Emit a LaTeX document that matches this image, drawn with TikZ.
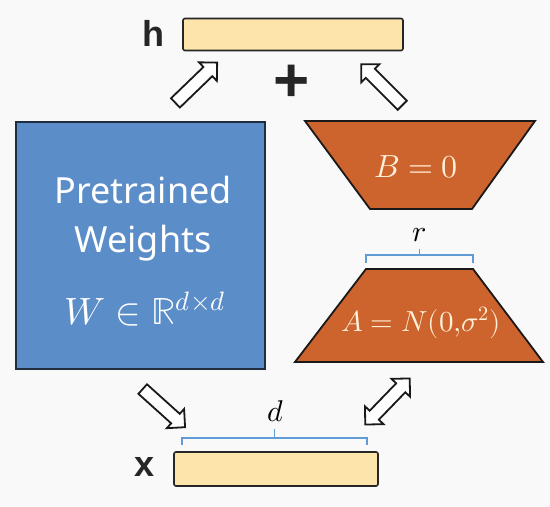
\documentclass[tikz,border=0pt]{standalone}
\usepackage{amsmath}
\usepackage{fontspec}
\usepackage{unicode-math}
\setsansfont{Noto Sans}
\newfontfamily\veclabelfont{Liberation Sans}
\usetikzlibrary{positioning,calc,shapes.arrows}
\definecolor{wblue}{RGB}{91,141,200}
\definecolor{wborder}{RGB}{32,45,62}
\definecolor{lorange}{RGB}{205,99,45}
\definecolor{vcream}{RGB}{252,228,170}
\definecolor{brblue}{RGB}{95,155,212}
\definecolor{bgcol}{RGB}{249,249,249}
\definecolor{lcream}{RGB}{255,240,215}
\tikzset{
	vecbox/.style={draw=black!85, fill=vcream, line width=1.6pt, rounded corners=2pt, minimum width=#1, minimum height=32pt, inner sep=0pt},
	veclabel/.style={font=\veclabelfont\bfseries\fontsize{36}{40}\selectfont, text=black!85},
	lowrank/.style={draw=black!90, fill=lorange, line width=1.8pt, line join=miter},
	onlowrank/.style={text=lcream, font=\fontsize{29}{32}\selectfont, inner sep=0pt},
	hollow/.style={single arrow, draw=black!90, fill=white, line width=1.8pt, inner xsep=0pt, inner ysep=5.5pt, minimum height=#1, single arrow head extend=6.5pt},
	dhollow/.style={double arrow, draw=black!90, fill=white, line width=1.8pt, inner xsep=0pt, inner ysep=5.5pt, minimum height=#1, double arrow head extend=6.5pt},
	dimbrace/.style={draw=brblue, line width=1.4pt},
	dimlabel/.style={font=\fontsize{30}{32}\selectfont, inner sep=0pt}
}
\begin{document}
\begin{tikzpicture}[x=1pt,y=1pt]
		\fill[bgcol] (0,0) rectangle (550,507);
		\useasboundingbox (0,0) rectangle (550,507);
		
		\node[vecbox=220pt] (h) at (293,472.5) {};
		\node[veclabel] (hlbl) at (153,474) {h};
		\node[vecbox=204pt, minimum height=34pt] (x) at (276,38) {};
		\node[veclabel] (xlbl) at (145,40) {x};
		
		\node[draw=wborder, fill=wblue, line width=1.8pt, minimum width=249pt, minimum height=247pt] (W) at (140.5,261.5) {};
		\node[text=white, font=\sffamily\fontsize{36}{49}\selectfont, align=center] (Wtxt) at (143,288) {Pretrained\\Weights};
		\node[text=white, font=\fontsize{38}{40}\selectfont] (Wdim) at (145,198) {$W \in \mathbb{R}^{d\times d}$};
		
		\coordinate (B1) at (305,386);
		\coordinate (B2) at (535,386);
		\coordinate (B3) at (472,298);
		\coordinate (B4) at (370,298);
		\draw[lowrank] (B1) -- (B2) -- (B3) -- (B4) -- cycle;
		\node[onlowrank, font=\fontsize{32}{34}\selectfont] (B) at (416,340) {$B = 0$};
		
		\coordinate (A1) at (366,238);
		\coordinate (A2) at (473,238);
		\coordinate (A3) at (543,145);
		\coordinate (A4) at (295,145);
		\draw[lowrank] (A1) -- (A2) -- (A3) -- (A4) -- cycle;
		\node[onlowrank] (A) at (421,184) {$A = N(0{,}\sigma^2)$};
		
		\coordinate (r1) at (366,252);
		\coordinate (r2) at (473,252);
		\draw[dimbrace] ([yshift=-8pt]r1) -- (r1) -- (r2) -- ([yshift=-8pt]r2);
		\draw[dimbrace] ($(r1)!0.5!(r2)$) -- ++(0,6);
		\node[dimlabel] (r) at (419,272) {$r$};
		
		\coordinate (d1) at (182,69);
		\coordinate (d2) at (367,69);
		\draw[dimbrace] ([yshift=-7pt]d1) -- (d1) -- (d2) -- ([yshift=-7pt]d2);
		\draw[dimbrace] ($(d1)!0.5!(d2)$) -- ++(0,9);
		\node[dimlabel] (d) at (276,96) {$d$};
		
		\node[font=\veclabelfont\bfseries\fontsize{62}{62}\selectfont, text=black!85, inner sep=0pt] (plus) at (292,424) {+};
		
		\node[hollow=58pt, rotate=44] (Wh) at (194,422) {};
		\node[hollow=58pt, rotate=135] (Bh) at (384,420) {};
		\node[hollow=57pt, rotate=-42] (xW) at (161.5,101) {};
		\node[dhollow=64pt, rotate=46] (xA) at (387.5,105.5) {};
	\end{tikzpicture}
\end{document}
